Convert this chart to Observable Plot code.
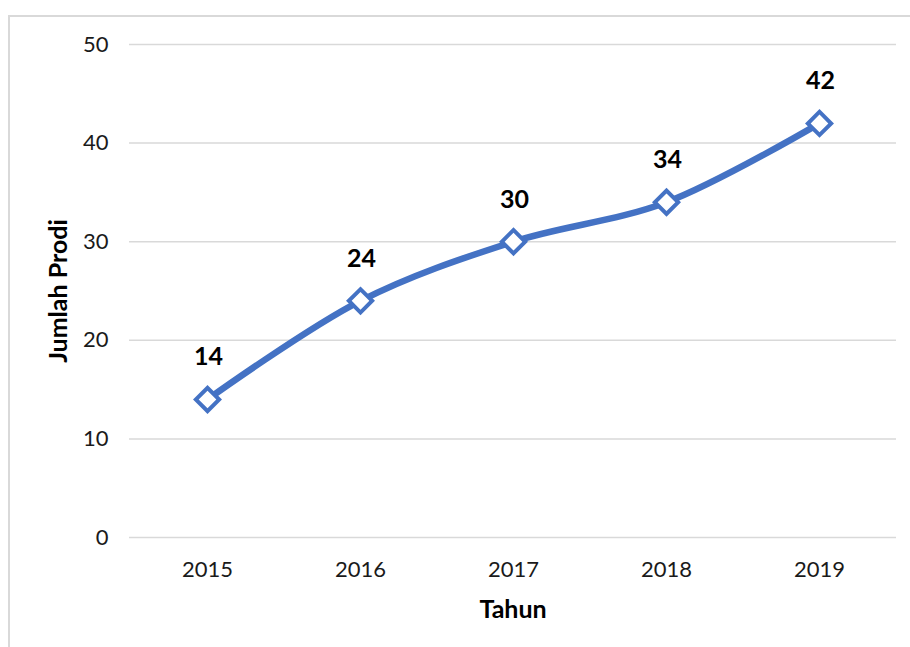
<!DOCTYPE html>
<html>
<head>
<meta charset="utf-8">
<script src="https://cdn.jsdelivr.net/npm/d3@7"></script>
<script src="https://cdn.jsdelivr.net/npm/@observablehq/plot@0.6"></script>
<style>
  html, body { margin: 0; padding: 0; background: #fff; }
  #wrap { position: relative; width: 910px; height: 647px; overflow: hidden; }
  #border { position: absolute; left: 8px; top: 15px; width: 940px; height: 700px; border: 2px solid #d9d9d9; box-sizing: border-box; }
  #chart { position: absolute; left: 0; top: 0; }
</style>
</head>
<body>
<div id="wrap"><div id="border"></div><div id="chart"></div></div>
<script>
const years = ["2015", "2016", "2017", "2018", "2019"];
const values = [14, 24, 30, 34, 42];
const yTicks = [0, 10, 20, 30, 40, 50];
const xLabel = "Tahun";
const yLabel = "Jumlah Prodi";

const data = years.map((y, i) => ({year: y, value: values[i]}));
const font = "Lato, 'Noto Sans', sans-serif";

const plot = Plot.plot({
  width: 910,
  height: 647,
  marginLeft: 129,
  marginRight: 14,
  marginTop: 44,
  marginBottom: 110,
  style: {fontFamily: font, fontSize: "22px", color: "#1a1a1a", background: "transparent"},
  x: {type: "point", domain: years, padding: 0.5, label: null},
  y: {domain: [0, 50], ticks: yTicks, label: null},
  marks: [
    Plot.gridY(yTicks, {stroke: "#d9d9d9", strokeOpacity: 1, strokeWidth: 1.5}),
    Plot.axisY(yTicks, {tickSize: 0, tickPadding: 21, fontSize: 22, fill: "#1a1a1a", label: null}),
    Plot.axisX({tickSize: 0, tickPadding: 24, fontSize: 22, fill: "#1a1a1a", label: null}),
    Plot.text([xLabel], {frameAnchor: "bottom", lineAnchor: "middle", dy: 72, fontWeight: "bold", fontSize: 25, text: d => d, fill: "#000"}),
    Plot.text([yLabel], {frameAnchor: "left", textAnchor: "middle", lineAnchor: "middle", dx: -71, rotate: -90, fontWeight: "bold", fontSize: 25, text: d => d, fill: "#000"}),
    Plot.line(data, {x: "year", y: "value", stroke: "#4472C4", strokeWidth: 6.5, curve: "catmull-rom"}),
    Plot.dot(data, {x: "year", y: "value", symbol: "square", r: 9.3, rotate: 45, fill: "#fff", stroke: "#4472C4", strokeWidth: 4}),
    Plot.text(data, {x: "year", y: "value", text: d => String(d.value), dy: -42, dx: 1, fontWeight: "bold", fontSize: 25, fill: "#000"})
  ]
});
document.getElementById("chart").appendChild(plot);
</script>
</body>
</html>
